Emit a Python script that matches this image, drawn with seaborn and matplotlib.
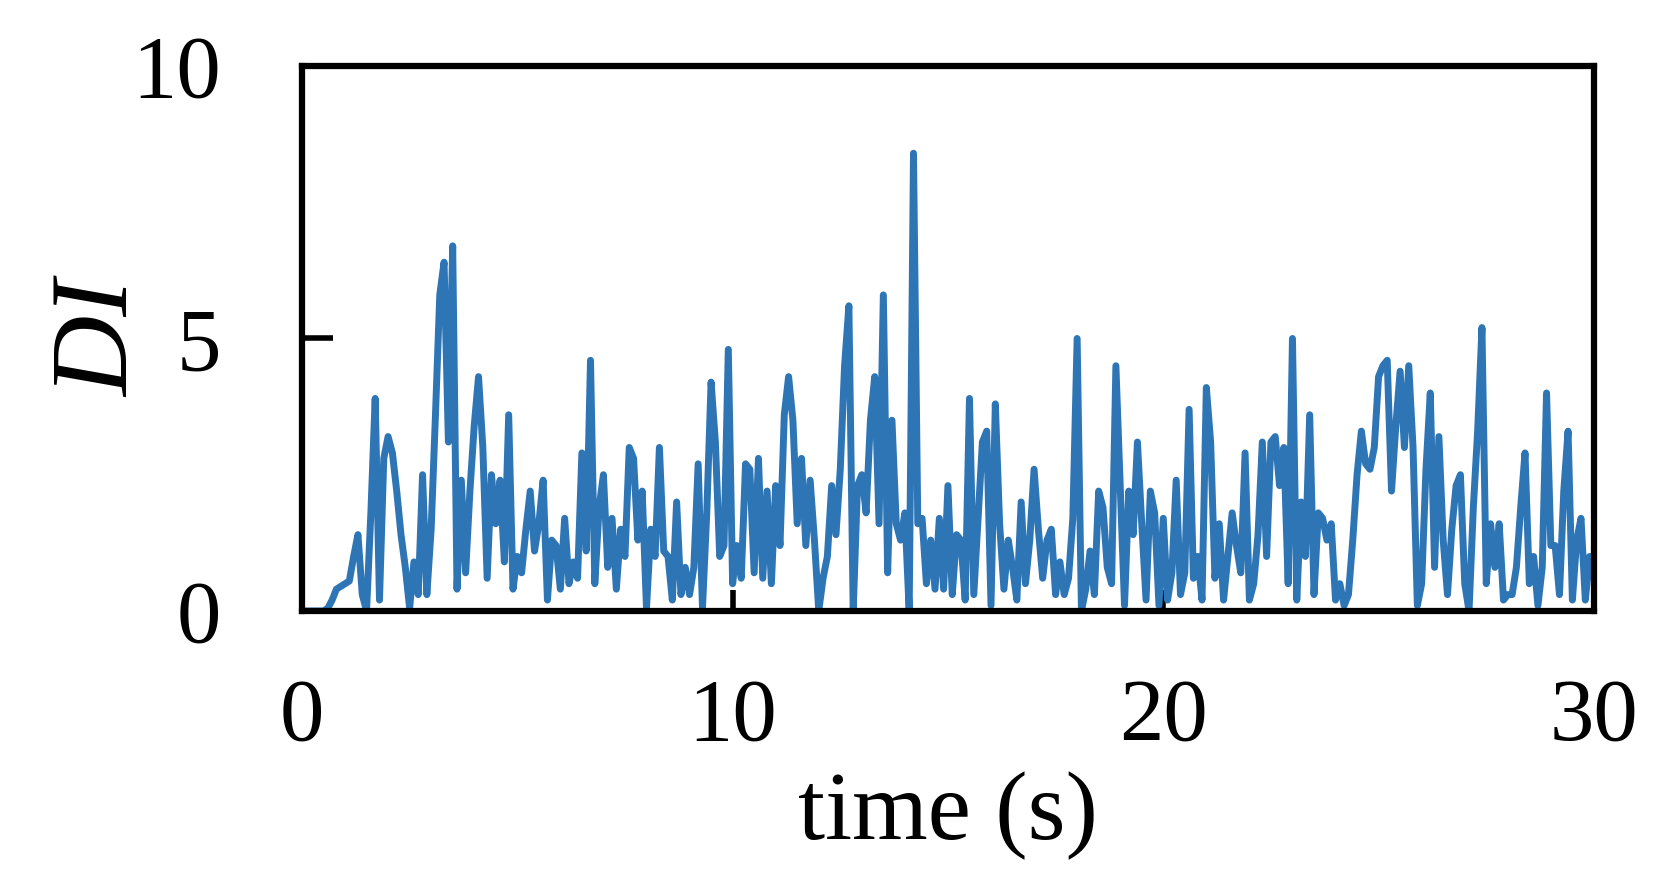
import numpy as np
import pandas as pd
import matplotlib
matplotlib.use('Agg')
import matplotlib.pyplot as plt
import seaborn as sns

# DI, one value every 0.1 s
dt = 0.1
di_00_05 = [0, 0, 0, 0, 0, 0, 0.05, 0.2, 0.4, 0.45,
            0.5, 0.55, 1.0, 1.4, 0.3, 0.0, 1.8, 3.9, 0.2, 2.8,
            3.2, 2.9, 2.2, 1.4, 0.8, 0.05, 0.9, 0.3, 2.5, 0.3,
            1.5, 3.6, 5.8, 6.4, 3.1, 6.7, 0.4, 2.4, 0.7, 2.2,
            3.4, 4.3, 3.0, 0.6, 2.5, 1.6, 2.4, 0.9, 3.6, 0.4]
di_05_10 = [1.0, 0.7, 1.5, 2.2, 1.1, 1.6, 2.4, 0.2, 1.3, 1.2,
            0.4, 1.7, 0.5, 0.9, 0.6, 2.9, 1.1, 4.6, 0.5, 1.9,
            2.5, 0.8, 1.7, 0.4, 1.5, 1.0, 3.0, 2.8, 1.3, 2.2,
            0.05, 1.5, 1.0, 3.0, 1.1, 1.0, 0.2, 2.0, 0.3, 0.8,
            0.3, 0.8, 2.7, 0.05, 1.8, 4.2, 3.1, 1.0, 1.2, 4.8]
di_10_15 = [0.5, 1.2, 0.6, 2.7, 2.6, 0.7, 2.8, 0.6, 2.2, 0.5,
            2.3, 1.2, 3.6, 4.3, 3.5, 1.6, 2.8, 1.2, 2.4, 1.3,
            0.0, 0.6, 1.0, 2.3, 1.4, 2.6, 4.5, 5.6, 0.0, 2.3,
            2.5, 1.8, 3.5, 4.3, 1.6, 5.8, 0.7, 3.5, 1.6, 1.3,
            1.8, 0.0, 8.4, 1.6, 1.7, 0.5, 1.3, 0.4, 1.7, 0.4]
di_15_20 = [2.3, 0.3, 1.4, 1.3, 0.2, 3.9, 0.3, 1.7, 3.1, 3.3,
            0.1, 3.8, 1.6, 0.4, 1.3, 0.8, 0.2, 2.0, 0.5, 1.3,
            2.6, 1.5, 0.6, 1.3, 1.5, 0.3, 0.9, 0.3, 0.6, 1.7,
            5.0, 0.0, 0.4, 1.1, 0.3, 2.2, 1.9, 0.8, 0.5, 4.5,
            2.3, 0.1, 2.2, 1.4, 3.1, 1.6, 0.2, 2.2, 1.8, 0.1]
di_20_25 = [1.7, 0.2, 0.7, 2.4, 0.3, 0.7, 3.7, 0.6, 1.0, 0.2,
            4.1, 3.1, 0.6, 1.6, 0.2, 1.0, 1.8, 1.2, 0.7, 2.9,
            0.2, 0.5, 1.4, 3.1, 1.0, 3.1, 3.2, 2.3, 3.0, 0.5,
            5.0, 0.2, 2.0, 1.0, 3.6, 0.3, 1.8, 1.7, 1.3, 1.6,
            0.2, 0.5, 0.1, 0.3, 1.3, 2.5, 3.3, 2.7, 2.6, 3.0]
di_25_30 = [4.3, 4.5, 4.6, 2.2, 3.4, 4.4, 3.0, 4.5, 3.0, 0.1,
            0.5, 2.6, 4.0, 0.8, 3.2, 1.3, 0.3, 1.5, 2.3, 2.5,
            0.5, 0.0, 1.9, 3.3, 5.2, 0.5, 1.6, 0.8, 1.6, 0.2,
            0.3, 0.3, 0.8, 1.9, 2.9, 0.5, 1.0, 0.1, 0.8, 4.0,
            1.2, 1.2, 0.3, 2.2, 3.3, 0.2, 1.3, 1.7, 0.2, 1.0,
            0.6]

di = di_00_05 + di_05_10 + di_10_15 + di_15_20 + di_20_25 + di_25_30
df = pd.DataFrame({'time': np.arange(len(di)) * dt, 'DI': di})

sns.set_theme(style='white')
plt.rcParams['font.family'] = ['Liberation Serif', 'DejaVu Serif']

fig = plt.figure(figsize=(16.72, 8.91), dpi=100)
ax = fig.add_axes([0.1806, 0.3143, 0.7727, 0.6116])

sns.lineplot(data=df, x='time', y='DI', ax=ax, color='#2e75b6', linewidth=5)

ax.set_xlim(0, 30)
ax.set_ylim(0, 10)
ax.set_xticks([0, 10, 20, 30])
ax.set_yticks([0, 5, 10])
ax.tick_params(axis='y', left=True, direction='in', length=22, width=4,
               pad=58, labelsize=64, colors='black')
ax.tick_params(axis='x', bottom=True, direction='in', length=15, width=4,
               pad=48, labelsize=64, colors='black')
for s in ax.spines.values():
    s.set_color('black')
    s.set_linewidth(4.5)
    s.set_zorder(3)

ax.set_xlabel('time (s)', fontsize=70, color='black')
ax.set_ylabel('DI', fontsize=80, style='italic', color='black')
ax.xaxis.set_label_coords(0.5, -0.376)
ax.xaxis.label.set_va('center')
ax.yaxis.set_label_coords(-0.155, 0.5)
ax.yaxis.label.set_va('center')

fig.savefig('out.png', dpi=100, facecolor='white')
